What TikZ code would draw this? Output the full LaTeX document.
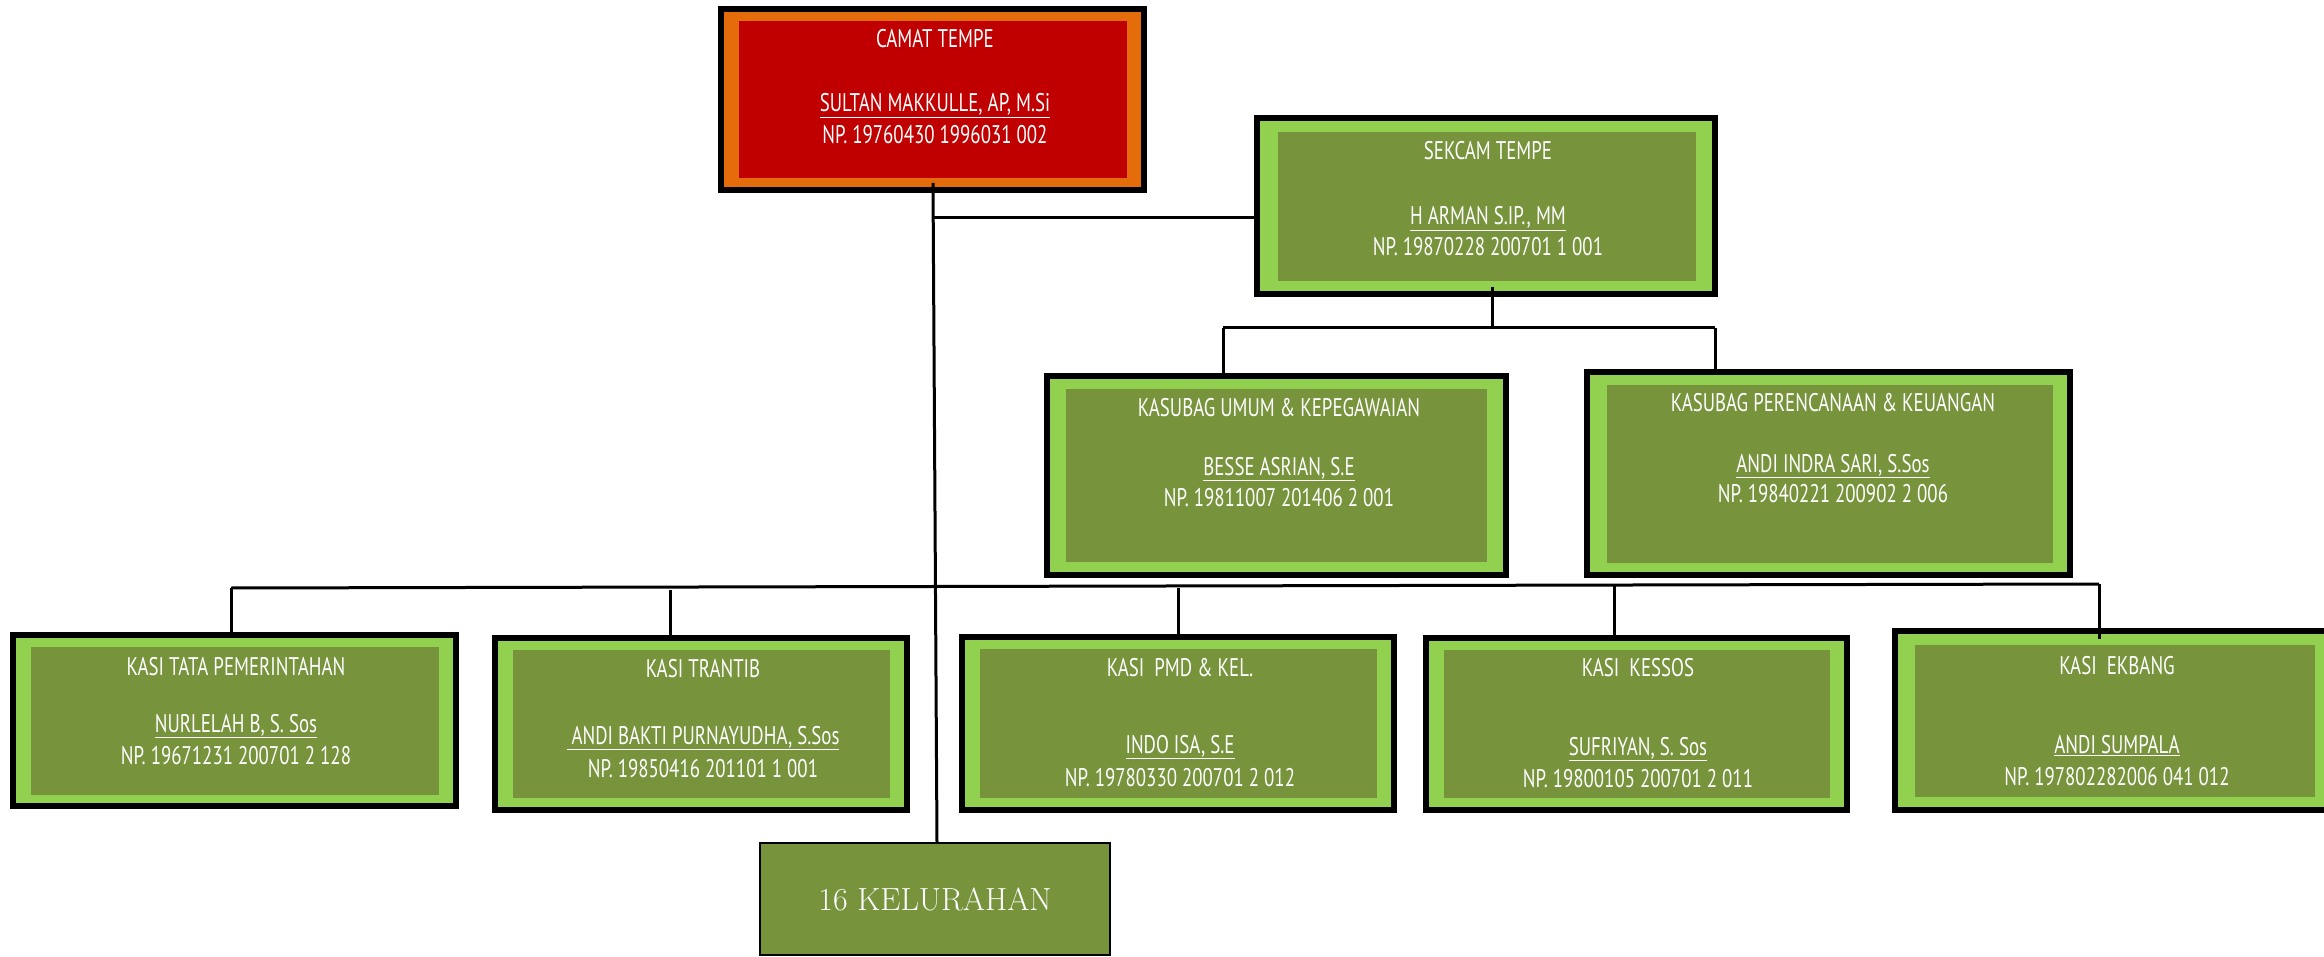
\documentclass[tikz,border=0pt]{standalone}
\usepackage{fontspec}
\newfontfamily\din[FakeStretch=0.74]{PT Sans}
\definecolor{dgreen}{HTML}{77933C}
\definecolor{lgreen}{HTML}{92D050}
\definecolor{dred}{HTML}{C00000}
\definecolor{orng}{HTML}{E46C0A}
\tikzset{
  conn/.style={draw=black, line width=3pt},
  outerbox/.style={draw=black, line width=6pt, fill=lgreen, inner sep=0pt, outer sep=0pt},
  outerred/.style={outerbox, fill=orng},
  innerbox/.style={fill=dgreen, inner sep=0pt, outer sep=0pt},
  innerred/.style={innerbox, fill=dred},
  txt/.style={text=white, font=\din\fontsize{25.5}{29}\selectfont, inner sep=0pt, anchor=base},
  kelbox/.style={draw=black, line width=2pt, fill=dgreen, inner sep=0pt, outer sep=0pt, text=white, font=\fontsize{32}{36}\selectfont},
}
\begin{document}
\begin{tikzpicture}[x=1pt,y=-1pt]
\useasboundingbox (0,0) rectangle (2324,957);
% ---- CAMAT
\node[outerred, minimum width=423pt, minimum height=181pt] (camat) at (932.5,99.5) {};
\node[innerred, minimum width=388pt, minimum height=157pt] (camatin) at (933,99.5) {};
\node[txt] (t1) at (935,48) {CAMAT TEMPE};
\node[txt] (n1) at (935,112) {\underline{SULTAN MAKKULLE, AP, M.Si}};
\node[txt] (p1) at (935,144) {NP. 19760430 1996031 002};
% ---- SEKCAM
\node[outerbox, minimum width=458pt, minimum height=176pt] (sek) at (1486,206) {};
\node[innerbox, minimum width=418pt, minimum height=149pt] (sekin) at (1487,206.5) {};
\node[txt] (t2) at (1488,160) {SEKCAM TEMPE};
\node[txt] (n2) at (1488,225) {\underline{H ARMAN S.IP., MM}};
\node[txt] (p2) at (1488,256) {NP. 19870228 200701 1 001};
% ---- KASUBAG UMUM
\node[outerbox, minimum width=459pt, minimum height=199pt] (kum) at (1276.5,475.5) {};
\node[innerbox, minimum width=421pt, minimum height=173pt] (kumin) at (1276.5,475.5) {};
\node[txt] (t3) at (1279,417) {KASUBAG UMUM \& KEPEGAWAIAN};
\node[txt] (n3) at (1279,475) {\underline{BESSE ASRIAN, S.E}};
\node[txt] (p3) at (1279,506) {NP. 19811007 201406 2 001};
% ---- KASUBAG PERENCANAAN
\node[outerbox, minimum width=483pt, minimum height=203pt] (kper) at (1828.5,473.5) {};
\node[innerbox, minimum width=446pt, minimum height=178pt] (kperin) at (1830,474) {};
\node[txt] (t4) at (1833,412) {KASUBAG PERENCANAAN \& KEUANGAN};
\node[txt] (n4) at (1833,472) {\underline{ANDI INDRA SARI, S.Sos}};
\node[txt] (p4) at (1833,502) {NP. 19840221 200902 2 006};
% ---- KASI row
\node[outerbox, minimum width=443pt, minimum height=171pt] (k1) at (234.5,720.5) {};
\node[innerbox, minimum width=408pt, minimum height=148pt] (k1in) at (235,721) {};
\node[txt] (t5) at (236,675) {KASI TATA PEMERINTAHAN};
\node[txt] (n5) at (236,732) {\underline{NURLELAH B, S. Sos}};
\node[txt] (p5) at (236,764) {NP. 19671231 200701 2 128};

\node[outerbox, minimum width=412pt, minimum height=172pt] (k2) at (701,724) {};
\node[innerbox, minimum width=377pt, minimum height=148pt] (k2in) at (701.5,724) {};
\node[txt] (t6) at (703,677) {KASI TRANTIB};
\node[txt] (n6) at (703,744) {\underline{ ANDI BAKTI PURNAYUDHA, S.Sos}};
\node[txt] (p6) at (703,777) {NP. 19850416 201101 1 001};

\node[outerbox, minimum width=432pt, minimum height=173pt] (k3) at (1178,723.5) {};
\node[innerbox, minimum width=397pt, minimum height=149pt] (k3in) at (1178.5,723.5) {};
\node[txt] (t7) at (1180,676) {KASI \ PMD \& KEL.};
\node[txt] (n7) at (1180,753) {\underline{INDO ISA, S.E}};
\node[txt] (p7) at (1180,786) {NP. 19780330 200701 2 012};

\node[outerbox, minimum width=421pt, minimum height=172pt] (k4) at (1636.5,724) {};
\node[innerbox, minimum width=386pt, minimum height=148pt] (k4in) at (1637,724) {};
\node[txt] (t8) at (1638,676) {KASI \ KESSOS};
\node[txt] (n8) at (1638,755) {\underline{SUFRIYAN, S. Sos}};
\node[txt] (p8) at (1638,787) {NP. 19800105 200701 2 011};

\node[outerbox, minimum width=442pt, minimum height=179pt] (k5) at (2116,720.5) {};
\node[innerbox, minimum width=400pt, minimum height=152pt] (k5in) at (2115,721) {};
\node[txt] (t9) at (2117,674) {KASI \ EKBANG};
\node[txt] (n9) at (2117,753) {\underline{ANDI SUMPALA}};
\node[txt] (p9) at (2117,785) {NP. 197802282006 041 012};

% ---- KELURAHAN
\node[kelbox, minimum width=350pt, minimum height=112pt] (kel) at (935,899) {16 KELURAHAN};

% ---- connectors
\coordinate (ctop) at (933,183);
\coordinate (j1) at (933.4,218);
\draw[conn] (ctop) -- (kel.north -| 937,0);
\draw[conn] (j1) -- (j1 -| sek.west);
\coordinate (s1) at (1492,287);
\coordinate (s2) at (1492,328);
\coordinate (bl) at (1223,328);
\coordinate (br) at (1715,328);
\draw[conn] (s1) -- (s2);
\draw[conn] (bl) -- (br);
\draw[conn] (bl) -- (bl |- kum.north);
\draw[conn] (br) -- (br |- kper.north);
% bottom bus
\coordinate (a1) at (231,588);
\coordinate (a5) at (2099,584);
\draw[conn] (a1) -- (a5);
\draw[conn] (a1) -- (a1 |- k1.north);
\coordinate (a2) at (670,590);
\draw[conn] (a2) -- (a2 |- k2.north);
\coordinate (a3) at (1178,588);
\draw[conn] (a3) -- (a3 |- k3.north);
\coordinate (a4) at (1614,585);
\draw[conn] (a4) -- (a4 |- k4.north);
\draw[conn] (a5) -- (2099,639);
\end{tikzpicture}
\end{document}
